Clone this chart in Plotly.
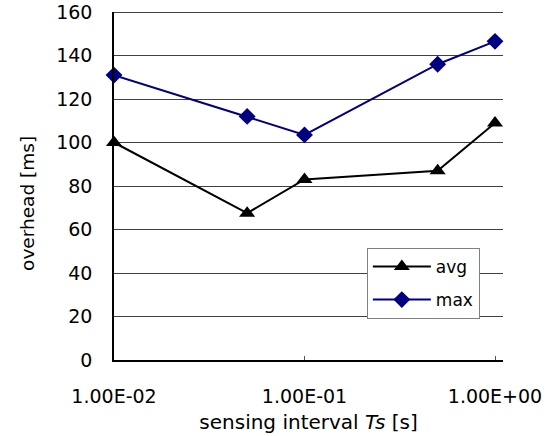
import plotly.graph_objects as go

intervals = [0.01, 0.05, 0.1, 0.5, 1.0]
avg_ms = [100, 67.5, 83, 87, 109]
max_ms = [131, 112, 103.5, 136, 146.5]
x_tickvals = [0.01, 0.1, 1.0]
x_ticktext = ["1.00E-02", "1.00E-01", "1.00E+00"]
y_tickvals = [0, 20, 40, 60, 80, 100, 120, 140, 160]

FONT = "DejaVu Sans, sans-serif"

fig = go.Figure()
fig.add_trace(go.Scatter(
    x=intervals, y=avg_ms, name="avg", mode="lines+markers", legendgroup="a",
    line=dict(color="black", width=2),
    marker=dict(symbol="triangle-up", size=14, color="black"),
    cliponaxis=False,
))
fig.add_trace(go.Scatter(
    x=intervals, y=max_ms, name="max", mode="lines+markers", legendgroup="b",
    line=dict(color="#000080", width=2),
    marker=dict(symbol="diamond", size=13, color="#000080"),
    cliponaxis=False,
))

# top border line and right vertical line at x = 1
fig.add_shape(type="line", xref="paper", yref="y", x0=0, x1=1, y0=160, y1=160,
              line=dict(color="black", width=1.5), layer="below")
fig.add_shape(type="line", xref="x", yref="paper", x0=0, x1=0, y0=0, y1=1,
              line=dict(color="black", width=1.5), layer="below")

# y-axis title (placed slightly below centre, as in the original)
fig.add_annotation(text="overhead [ms]", textangle=-90, showarrow=False,
                   xref="paper", yref="paper", x=-0.224, y=0.451,
                   xanchor="center", yanchor="middle",
                   font=dict(size=18.5, family=FONT, color="black"))

fig.update_layout(
    width=550, height=436,
    margin=dict(l=114, r=47, t=12, b=76),
    paper_bgcolor="white", plot_bgcolor="white",
    font=dict(family=FONT, color="black"),
    showlegend=True,
    legend=dict(
        x=0.650, y=0.322, xanchor="left", yanchor="top",
        bgcolor="white", bordercolor="#808080", borderwidth=1,
        font=dict(size=17, family=FONT),
        itemwidth=58, traceorder="grouped", tracegroupgap=8,
    ),
    xaxis=dict(
        type="log", range=[-2, 0.042], automargin=False,
        tickvals=x_tickvals, ticktext=x_ticktext,
        tickfont=dict(size=19), showgrid=False,
        showline=True, linecolor="black", linewidth=2,
        ticks="inside", ticklen=4, tickcolor="#555",
        ticklabelstandoff=18,
        title=dict(text="sensing interval <i>Ts</i> [s]", font=dict(size=20), standoff=9),
        zeroline=False,
    ),
    yaxis=dict(
        range=[0, 160], tickvals=y_tickvals, automargin=False,
        tickfont=dict(size=19),
        showgrid=True, gridcolor="#404040", gridwidth=1,
        showline=True, linecolor="black", linewidth=1.5,
        ticks="", ticklabelstandoff=16,
        zeroline=False,
    ),
)

fig.write_html("out.html", config={"displayModeBar": False},
               post_script="document.body.style.margin='0px';")
